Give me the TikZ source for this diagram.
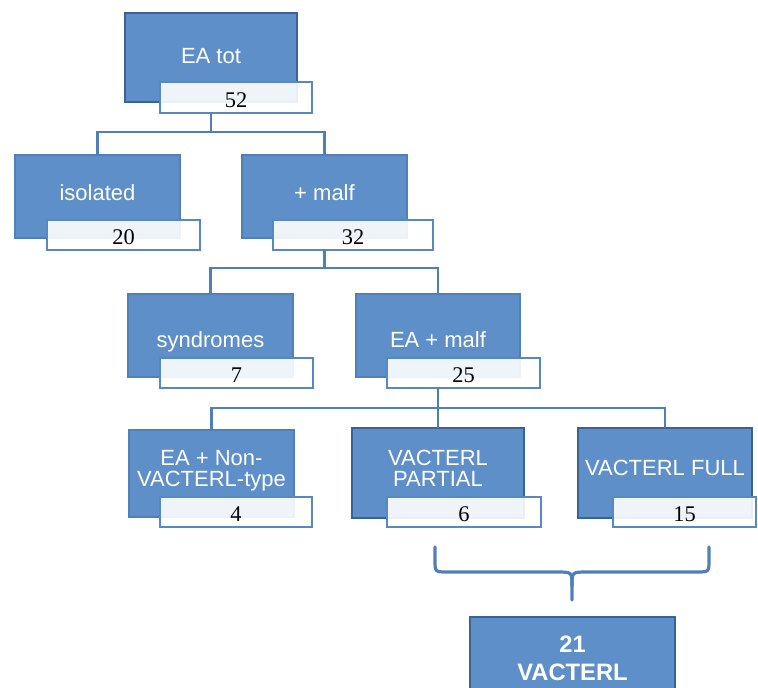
\documentclass[tikz,border=0pt]{standalone}
\usepackage{fontspec}
\setmainfont{Liberation Serif}
\setsansfont{Liberation Sans}
\usetikzlibrary{fit}
\definecolor{boxblue}{RGB}{94,143,200}
\definecolor{boxedge}{RGB}{80,128,186}
\definecolor{darkedge}{RGB}{58,98,148}
\definecolor{countedge}{RGB}{86,136,195}
\definecolor{connblue}{RGB}{78,127,187}
\begin{document}
\begin{tikzpicture}[x=0.75pt,y=-0.75pt,
  mainbox/.style={fill=boxblue,draw=boxedge,line width=1.1pt,inner sep=0pt,outer sep=0pt},
  darkbox/.style={mainbox,draw=darkedge,line width=2.2pt},
  countbox/.style={fill=white,fill opacity=0.9,draw=countedge,draw opacity=1,line width=2.1pt,inner sep=0pt,outer sep=0pt},
  lbl/.style={text=white,font=\sffamily\fontsize{16.5}{16}\selectfont,anchor=base,align=center,inner sep=0pt},
  lbltwo/.style={lbl,anchor=north},
  boldlbl/.style={text=white,font=\sffamily\bfseries\fontsize{17.8}{21}\selectfont,anchor=base,inner sep=0pt},
  num/.style={font=\fontsize{16.8}{17}\selectfont,anchor=base,inner sep=0pt,text=black},
  conn/.style={draw=connblue,line width=2.2pt},
  bracestyle/.style={draw=connblue,line width=2.4pt,line cap=round}
]
\useasboundingbox (0,0) rectangle (758,687);
\clip (0,0) rectangle (758,687);

% main boxes
\node[darkbox,fit={(125,13)(297,102)}] (m1) {};
\node[mainbox,fit={(15,155)(180,238)}] (iso) {};
\node[mainbox,fit={(242,155)(407,238)}] (malf) {};
\node[mainbox,fit={(128,294)(293,377)}] (syn) {};
\node[mainbox,fit={(356,294)(520,377)}] (eam) {};
\node[mainbox,fit={(129,430)(294,517)}] (ean) {};
\node[darkbox,fit={(352,428)(524,518)}] (part) {};
\node[darkbox,fit={(578,428)(752,518)}] (full) {};
\node[darkbox,fit={(470,617)(675,700)}] (bot) {};

% count boxes
\node[countbox,fit={(160,82)(312,113)}] (c1) {};
\node[countbox,fit={(47,220)(200,250)}] (c2) {};
\node[countbox,fit={(273,220)(433,250)}] (c3) {};
\node[countbox,fit={(160,358)(313,388)}] (c4) {};
\node[countbox,fit={(387,358)(540,388)}] (c5) {};
\node[countbox,fit={(160,497)(312,527)}] (c6) {};
\node[countbox,fit={(387,497)(541,527)}] (c7) {};
\node[countbox,fit={(613,497)(756,527)}] (c8) {};

% labels
\node[lbl] (t1) at (m1.center |- 0,63) {EA tot};
\node[lbl] (t2) at (iso.center |- 0,200) {isolated};
\node[lbl] (t3) at (malf.center |- 0,200) {+ malf};
\node[lbl] (t4) at (syn.center |- 0,347) {syndromes};
\node[lbl] (t5) at (eam.center |- 0,347) {EA + malf};
\node[lbltwo] (t6) at (ean.center |- 0,450) {EA + Non-\\VACTERL-type};
\node[lbltwo] (t7) at (part.center |- 0,450) {VACTERL\\PARTIAL};
\node[lbl] (t8) at (full.center |- 0,475) {VACTERL FULL};
\node[boldlbl] (t9) at (bot.center |- 0,652) {21};
\node[boldlbl] (t10) at (bot.center |- 0,680) {VACTERL};

% numbers
\node[num] (n1) at ([yshift=4.5pt]c1.south) {52};
\node[num] (n2) at ([yshift=4.5pt]c2.south) {20};
\node[num] (n3) at ([yshift=4.5pt]c3.south) {32};
\node[num] (n4) at ([yshift=4.5pt]c4.south) {7};
\node[num] (n5) at ([yshift=4.5pt]c5.south) {25};
\node[num] (n6) at ([yshift=4.5pt]c6.south) {4};
\node[num] (n7) at ([yshift=4.5pt]c7.south) {6};
\node[num] (n8) at ([yshift=4.5pt]c8.south) {15};

% connectors
\draw[conn] (c1.south -| m1) -- ++(0,19) coordinate (j1);
\draw[conn] (iso.north) |- (j1) -| (malf.north);
\draw[conn] (c3.south -| malf) -- ++(0,18) coordinate (j2);
\draw[conn] (syn.north) |- (j2) -| (eam.north);
\draw[conn] (c5.south -| eam) -- ++(0,20) coordinate (j3);
\draw[conn] (ean.north) |- (j3) -| (full.north);
\draw[conn] (j3) -- (part.north);

% brace
\draw[bracestyle] (435,547) -- (435,560) .. controls (435,572) .. (448,572) -- (557,572) .. controls (572,572) .. (572,586) -- (572,600);
\draw[bracestyle] (709,547) -- (709,560) .. controls (709,572) .. (696,572) -- (587,572) .. controls (572,572) .. (572,586);
\end{tikzpicture}
\end{document}
